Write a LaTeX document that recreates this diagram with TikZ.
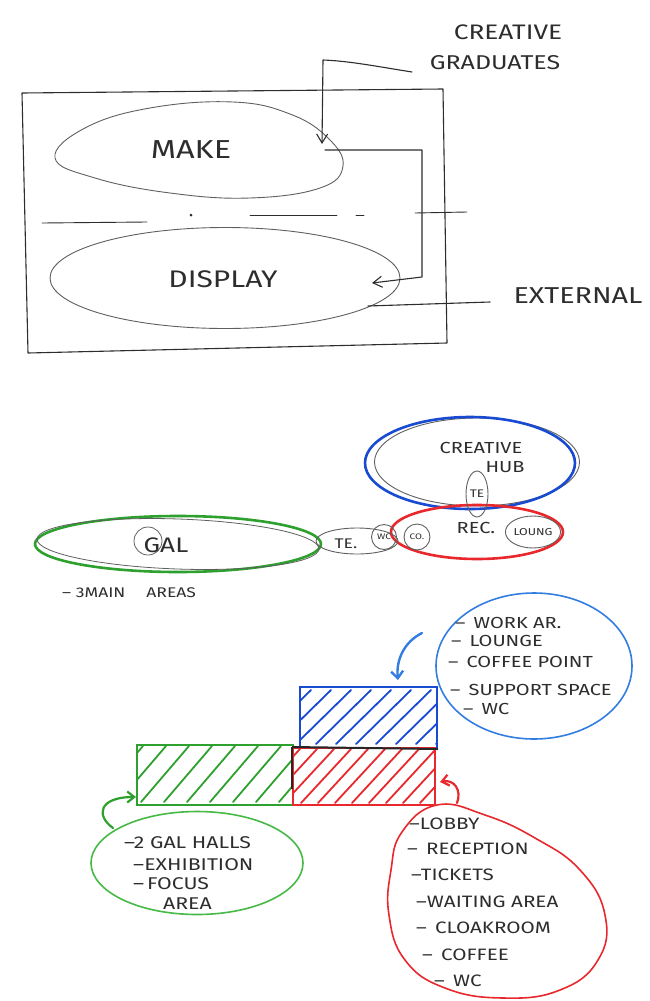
\documentclass[tikz,border=0pt]{standalone}
\usepackage{fontspec}
\setmainfont{Fira Sans}[FakeStretch=1.25]
\usetikzlibrary{shapes.geometric,arrows.meta}
\definecolor{pen}{RGB}{45,45,45}
\definecolor{gpen}{RGB}{95,95,95}
\definecolor{mgreen}{RGB}{45,160,45}
\definecolor{lgreen}{RGB}{70,185,70}
\definecolor{mblue}{RGB}{25,75,210}
\definecolor{lblue}{RGB}{50,125,225}
\definecolor{mred}{RGB}{232,40,45}
\begin{document}
\begin{tikzpicture}[x=1pt,y=-1pt,
  pencil/.style={draw=pen, line width=1.1pt, line join=round, line cap=round},
  grayline/.style={draw=gpen, line width=0.9pt},
  lbl/.style={text=pen, inner sep=0pt},
  vtip/.style={-{Straight Barb[length=9pt,width=11pt]}},
  oval/.style={ellipse, inner sep=0pt},
  marker/.style={line width=2.6pt, line cap=round, line join=round},
  hatch/.style={line width=1.8pt, line cap=round}]
\useasboundingbox (0,0) rectangle (649,1001);

% ---------------- top sketch ----------------
\node[lbl, font=\fontsize{21}{21}\selectfont] (cg1) at (508,32) {CREATIVE};
\node[lbl, font=\fontsize{20}{20}\selectfont] (cg2) at (495,63) {GRADUATES};
\node[lbl, font=\fontsize{23}{23}\selectfont] (ext) at (578,296) {EXTERNAL};

\draw[pencil] (22,93) -- (443,89) -- (447,343) -- (28,353) -- cycle;

% MAKE zone
\draw[gpen, line width=0.9pt] plot[smooth cycle, tension=0.7] coordinates
  {(55,158) (85,128) (150,108) (233,102) (290,114) (328,138) (343,166) (320,188) (250,198) (170,193) (95,178)};
\node[lbl, font=\fontsize{26}{26}\selectfont] (make) at (191,150) {MAKE};
% DISPLAY zone
\node[oval, grayline, minimum width=350pt, minimum height=101pt] (dispz) at (225,278) {};
\node[lbl, font=\fontsize{24}{24}\selectfont] (display) at (223,279) {DISPLAY};

% dividing dash-dot line
\begin{scope}[pencil, line width=0.9pt]
\draw (42,223) -- (147,222);
\draw (250,215) -- (337,215);
\draw (356,215) -- (364,215);
\draw (415,213) -- (467,212);
\end{scope}
\fill[pen] (191,215) circle (1.5pt);

% connectors
\coordinate (cgA) at (412,72);
\coordinate (cgB) at (323,60);
\coordinate (makeIn) at (322,144);
\draw[pencil, vtip] (cgA) .. controls (380,67) and (350,61) .. (cgB) -- (makeIn);
\coordinate (makeOut) at (325,150);
\coordinate (r1) at (422,150);
\coordinate (r2) at (422,277);
\coordinate (dispIn) at (372,283);
\draw[pencil, vtip] (makeOut) -- (r1) -- (r2) -- (dispIn);
\coordinate (extEnd) at (368,306);
\draw[pencil] (490,302) -- (extEnd);

% ---------------- middle sketch ----------------
\node[oval, draw=mgreen, marker, minimum width=286pt, minimum height=56pt] (galz) at (178,544) {};
\draw[gpen, line width=0.8pt, rotate around={-2:(178,544)}] (178,544) ellipse (141pt and 25pt);
\node[lbl, font=\fontsize{21}{21}\selectfont] (gal) at (166,545) {GAL};
\draw[gpen, line width=0.8pt] (148,541) circle (14pt);
\node[lbl, font=\fontsize{14}{14}\selectfont, anchor=west] (areas) at (62,593) {– 3MAIN\quad\enspace AREAS};

\node[oval, draw=gpen, line width=0.9pt, minimum width=205pt, minimum height=88pt] (hubin) at (477,462) {};
\node[oval, draw=mblue, marker, minimum width=210pt, minimum height=92pt] (hub) at (470,463) {};
\node[lbl, font=\fontsize{16}{16}\selectfont] (hubt1) at (481,448) {CREATIVE};
\node[lbl, font=\fontsize{16}{16}\selectfont] (hubt2) at (505,467) {HUB};

\node[oval, draw=mred, marker, minimum width=172pt, minimum height=54pt] (rec) at (477,532) {};
\node[lbl, font=\fontsize{16}{16}\selectfont] (rect) at (476,528) {REC.};
\node[oval, draw=gpen, line width=0.9pt, minimum width=47pt, minimum height=32pt,
      font=\fontsize{10}{10}\selectfont, text=pen] (loung) at (533,532) {LOUNG};
\node[oval, draw=gpen, line width=0.9pt, minimum width=22pt, minimum height=46pt,
      font=\fontsize{11}{11}\selectfont, text=pen] (te2) at (477,494) {TE};

\node[oval, draw=gpen, line width=0.9pt, minimum width=82pt, minimum height=26pt] (te1) at (357,541) {};
\node[lbl, font=\fontsize{14}{14}\selectfont] (te1t) at (346,544) {TE.};
\node[circle, draw=gpen, line width=0.9pt, minimum size=25pt, inner sep=0pt,
      font=\fontsize{8}{8}\selectfont, text=pen] (wc1) at (384,537) {WC};
\node[circle, draw=gpen, line width=0.9pt, minimum size=26pt, inner sep=0pt,
      font=\fontsize{8}{8}\selectfont, text=pen] (co1) at (417,537) {CO.};

% ---------------- bottom sketch ----------------
% blue block
\begin{scope}
  \clip (300,687) rectangle (437,748);
  \foreach \x in {250,270,...,430} \draw[mblue, hatch] (\x+6,744) -- ++(55,-54);
\end{scope}
\node[rectangle, draw=mblue, line width=2pt, minimum width=137pt, minimum height=61pt, inner sep=0pt] (blueblk) at (368.5,717.5) {};
% green block
\begin{scope}
  \clip (137,745) rectangle (293,805);
  \foreach \x in {95,118,...,290} \draw[mgreen, hatch] (\x,802) -- ++(48,-56);
\end{scope}
\node[rectangle, draw=mgreen, line width=2pt, minimum width=156pt, minimum height=60pt, inner sep=0pt] (greenblk) at (215,775) {};
% red block
\begin{scope}
  \clip (293,748) rectangle (435,805);
  \foreach \x in {250,267,...,430} \draw[mred, hatch] (\x,803) -- ++(50,-54);
\end{scope}
\node[rectangle, draw=mred, line width=2pt, minimum width=142pt, minimum height=57pt, inner sep=0pt] (redblk) at (364,776.5) {};
\draw[black!85, line width=2pt] (redblk.north west) -- (blueblk.south east);
\draw[black!85, line width=2pt] (redblk.north west) -- ++(0,42);

% blue list
\node[oval, draw=lblue, line width=1.6pt, minimum width=196pt, minimum height=146pt] (bluel) at (534,666) {};
\begin{scope}[every node/.style={lbl, anchor=west, font=\fontsize{16}{16}\selectfont}]
  \node (b1) at (455,623) {–\enspace WORK AR.};
  \node (b2) at (451,641) {–\enspace LOUNGE};
  \node (b3) at (448,662) {–\enspace COFFEE POINT};
  \node (b4) at (450,690) {–\enspace SUPPORT SPACE};
  \node (b5) at (463,709) {–\enspace WC};
\end{scope}
\coordinate (bA) at (422,633);
\coordinate (bB) at (398,680);
\draw[lblue, line width=2.4pt, line cap=round, -{Straight Barb[length=7pt,width=12pt]}] (bA) .. controls (404,642) and (396,660) .. (bB);

% green list
\node[oval, draw=lgreen, line width=1.6pt, minimum width=212pt, minimum height=103pt] (greenl) at (197,863) {};
\begin{scope}[every node/.style={lbl, anchor=west, font=\fontsize{17}{17}\selectfont}]
  \node (g1) at (124,843) {–2 GAL HALLS};
  \node (g2) at (133,865) {–EXHIBITION};
  \node (g3) at (133,884) {–\,FOCUS};
  \node (g4) at (163,904) {AREA};
\end{scope}
\coordinate (gA) at (113,828);
\coordinate (gB) at (136,797);
\draw[mgreen, line width=2.2pt, line cap=round, -{Straight Barb[length=7pt,width=11pt]}] (gA) .. controls (96,816) and (98,797) .. (gB);

% red list
\draw[mred, line width=1.6pt] plot[smooth cycle, tension=0.75] coordinates
  {(437,805) (485,815) (535,838) (580,870) (605,915) (598,960) (560,990) (503,998) (445,988) (405,960) (389,915) (391,870) (402,832)};
\begin{scope}[every node/.style={lbl, anchor=west, font=\fontsize{16.5}{16.5}\selectfont}]
  \node (r1t) at (409,824) {–LOBBY};
  \node (r2t) at (407,849) {–\enspace RECEPTION};
  \node (r3t) at (411,875) {–TICKETS};
  \node (r4t) at (416,902) {–WAITING AREA};
  \node (r5t) at (416,928) {–\enspace CLOAKROOM};
  \node (r6t) at (422,955) {–\enspace COFFEE};
  \node (r7t) at (434,981) {–\enspace WC};
\end{scope}
\coordinate (rA) at (457,803);
\coordinate (rB) at (440,782);
\draw[mred, line width=2.2pt, line cap=round, -{Straight Barb[length=7pt,width=11pt]}] (rA) .. controls (462,790) and (454,779) .. (rB);
\end{tikzpicture}
\end{document}
